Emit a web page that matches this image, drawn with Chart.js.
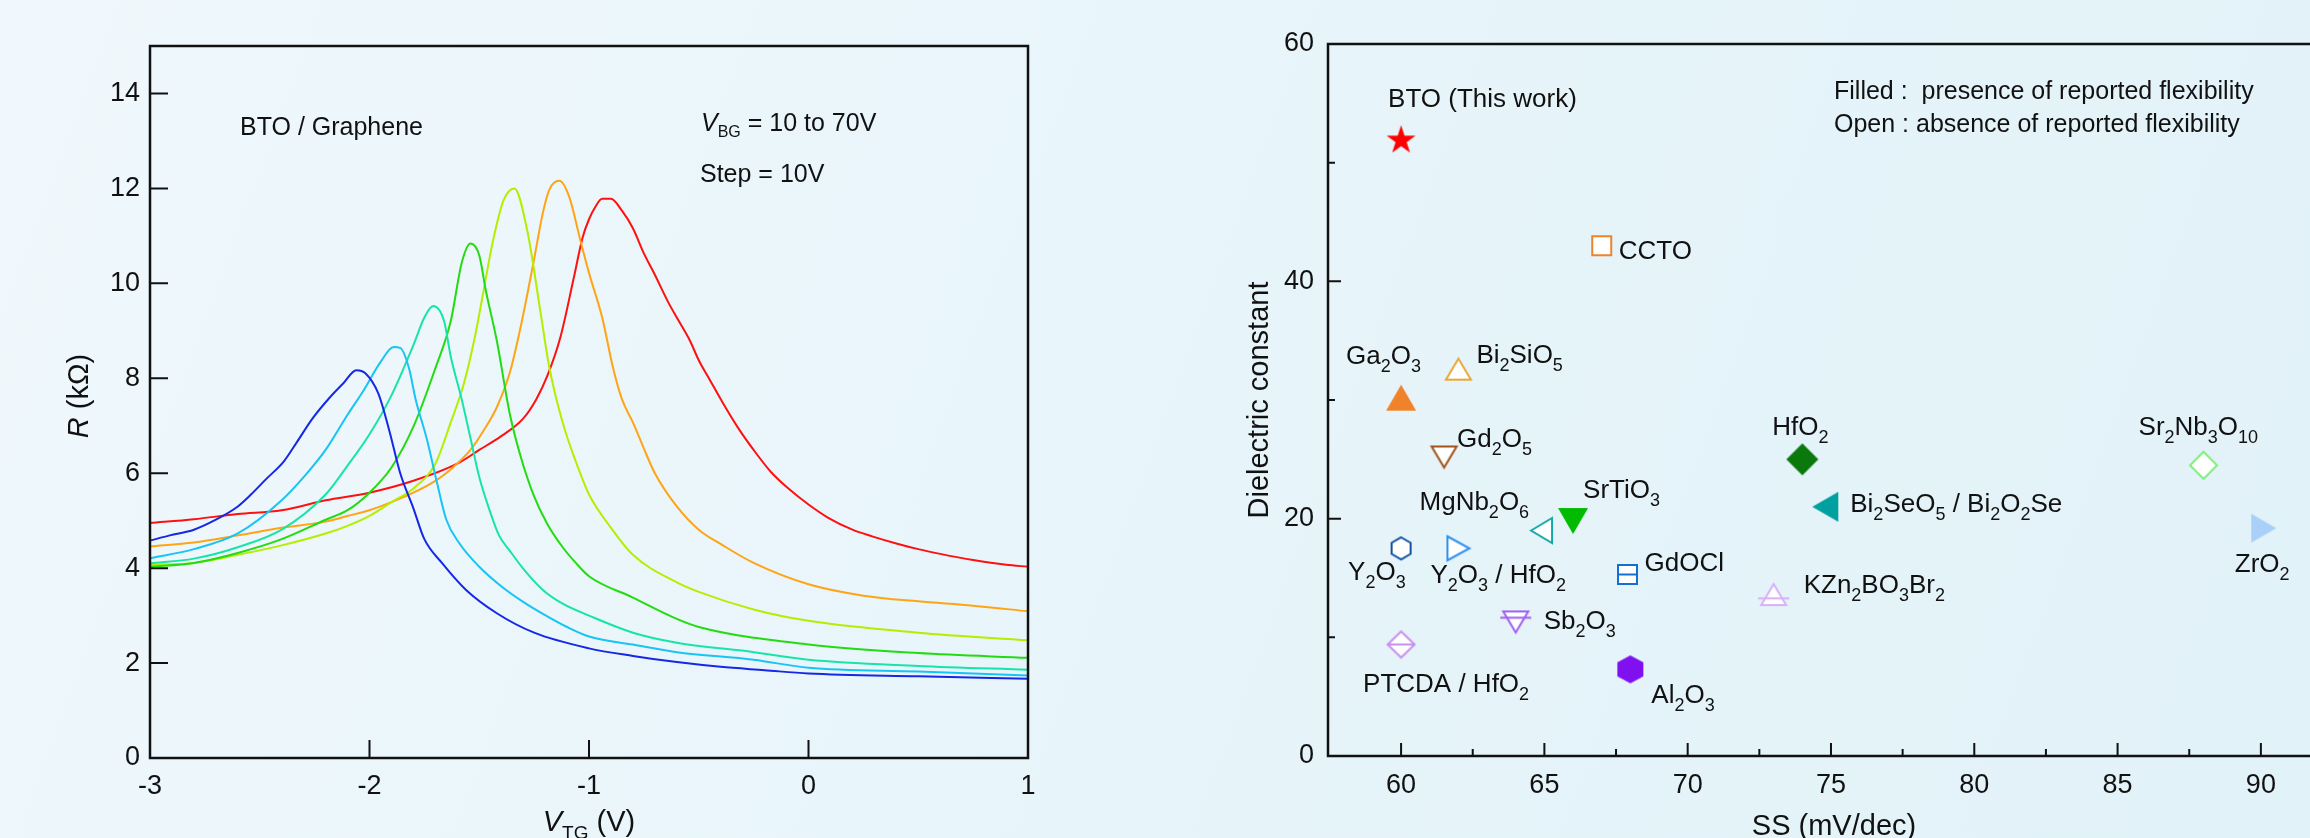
<!DOCTYPE html>
<html>
<head>
<meta charset="utf-8">
<script src="https://cdn.jsdelivr.net/npm/chart.js@4.4.1/dist/chart.umd.min.js"></script>
<style>
html, body {
    margin: 0;
    padding: 0;
    width: 2310px;
    height: 838px;
    overflow: hidden;
    background: linear-gradient(110deg, #f0f8fc 0%, #e8f5fa 45%, #e1f2f8 100%);
}
#leftChart { position: absolute; left: 0; top: 0; }
#rightChart { position: absolute; left: 1150px; top: 0; }
</style>
</head>
<body>
<canvas id="leftChart" width="1100" height="838"></canvas>
<canvas id="rightChart" width="1160" height="838"></canvas>
<script>
const FONT = "'Liberation Sans', Arial, Helvetica, sans-serif";

// ---- left panel: R vs V_TG, one curve per back gate voltage ----
const bgVoltages = ["10V", "20V", "30V", "40V", "50V", "60V", "70V"];

const vtg10 = [-3, -2.91, -2.8, -2.7, -2.6, -2.54, -2.47, -2.39, -2.33, -2.26, -2.18, -2.12, -2.06, -2.02, -1.96, -1.91, -1.86, -1.8, -1.75, -1.67, -1.56, -1.42, -1.25, -1.0, -0.8, -0.6, -0.4, -0.2, 0, 0.5, 1];
const r10 = [4.58, 4.69, 4.81, 5.02, 5.30, 5.55, 5.88, 6.25, 6.66, 7.15, 7.60, 7.89, 8.17, 8.11, 7.68, 6.90, 6.00, 5.26, 4.61, 4.11, 3.54, 3.05, 2.64, 2.31, 2.15, 2.02, 1.92, 1.85, 1.78, 1.72, 1.67];

const vtg20 = [-3, -2.8, -2.6, -2.4, -2.29, -2.2, -2.1, -2.03, -1.95, -1.89, -1.86, -1.82, -1.79, -1.74, -1.69, -1.65, -1.59, -1.5, -1.4, -1.3, -1.2, -1.1, -1.0, -0.8, -0.6, -0.25, 0, 0.5, 1];
const r20 = [4.21, 4.40, 4.73, 5.43, 5.97, 6.49, 7.23, 7.72, 8.34, 8.66, 8.64, 8.21, 7.56, 6.74, 5.75, 5.02, 4.52, 4.03, 3.62, 3.29, 3.01, 2.76, 2.56, 2.39, 2.23, 2.07, 1.90, 1.82, 1.74];

const vtg30 = [-3, -2.8, -2.6, -2.4, -2.2, -2.1, -2.0, -1.9, -1.8, -1.75, -1.71, -1.66, -1.63, -1.58, -1.54, -1.5, -1.45, -1.41, -1.36, -1.3, -1.21, -1.12, -1.0, -0.8, -0.6, -0.25, 0, 0.5, 1];
const r30 = [4.10, 4.20, 4.44, 4.81, 5.55, 6.16, 6.82, 7.64, 8.70, 9.28, 9.52, 9.20, 8.46, 7.56, 6.74, 5.92, 5.18, 4.69, 4.36, 3.99, 3.54, 3.25, 3.00, 2.64, 2.43, 2.23, 2.07, 1.94, 1.86];

const vtg40 = [-3, -2.8, -2.6, -2.4, -2.2, -2.1, -2.0, -1.9, -1.8, -1.7, -1.63, -1.58, -1.54, -1.5, -1.47, -1.42, -1.36, -1.31, -1.25, -1.19, -1.12, -1.06, -1.0, -0.8, -0.6, -0.5, 0, 0.5, 1];
const r40 = [4.03, 4.11, 4.32, 4.61, 5.02, 5.22, 5.59, 6.12, 6.98, 8.21, 9.20, 10.43, 10.84, 10.59, 9.85, 8.79, 7.23, 6.33, 5.51, 4.93, 4.44, 4.11, 3.83, 3.38, 2.93, 2.76, 2.39, 2.21, 2.11];

const vtg50 = [-3, -2.8, -2.6, -2.4, -2.2, -2.1, -2.0, -1.9, -1.8, -1.7, -1.63, -1.57, -1.52, -1.48, -1.44, -1.39, -1.34, -1.28, -1.22, -1.18, -1.12, -1.04, -1.0, -0.9, -0.8, -0.6, -0.5, -0.25, 0, 0.5, 1];
const r50 = [4.07, 4.11, 4.28, 4.48, 4.73, 4.89, 5.10, 5.39, 5.68, 6.20, 7.07, 7.89, 8.87, 9.85, 10.84, 11.74, 12.00, 11.08, 9.36, 8.21, 7.07, 6.00, 5.55, 4.85, 4.28, 3.70, 3.50, 3.13, 2.89, 2.64, 2.48];

const vtg60 = [-3, -2.8, -2.6, -2.4, -2.2, -2.1, -2.0, -1.9, -1.8, -1.7, -1.63, -1.54, -1.48, -1.42, -1.36, -1.31, -1.25, -1.21, -1.18, -1.135, -1.09, -1.04, -1.0, -0.94, -0.89, -0.85, -0.8, -0.74, -0.7, -0.6, -0.5, -0.39, -0.25, 0, 0.25, 0.5, 0.75, 1];
const r60 = [4.46, 4.54, 4.69, 4.85, 4.98, 5.10, 5.22, 5.39, 5.59, 5.84, 6.08, 6.49, 6.90, 7.39, 8.13, 9.11, 10.51, 11.49, 11.98, 12.16, 11.82, 10.92, 10.22, 9.28, 8.21, 7.56, 7.07, 6.41, 6.00, 5.30, 4.81, 4.48, 4.11, 3.66, 3.42, 3.30, 3.21, 3.09];

const vtg70 = [-3, -2.8, -2.6, -2.4, -2.2, -2.0, -1.8, -1.6, -1.5, -1.4, -1.3, -1.24, -1.19, -1.13, -1.07, -1.03, -1.0, -0.97, -0.94, -0.9, -0.85, -0.8, -0.75, -0.7, -0.64, -0.59, -0.54, -0.5, -0.45, -0.39, -0.32, -0.25, -0.17, -0.09, 0, 0.09, 0.2, 0.29, 0.4, 0.5, 0.6, 0.75, 0.9, 1];
const r70 = [4.95, 5.03, 5.14, 5.22, 5.43, 5.59, 5.84, 6.20, 6.49, 6.78, 7.15, 7.56, 8.05, 8.87, 10.10, 10.95, 11.35, 11.62, 11.78, 11.78, 11.53, 11.16, 10.63, 10.18, 9.61, 9.20, 8.79, 8.38, 7.97, 7.48, 6.95, 6.49, 6.02, 5.67, 5.34, 5.06, 4.81, 4.67, 4.52, 4.40, 4.30, 4.17, 4.07, 4.03];

const vtgTicks = [-3, -2, -1, 0, 1];
const rTicks = [0, 2, 4, 6, 8, 10, 12, 14];

// ---- right panel: dielectric constant vs SS ----
const materials = ["BTO (This work)", "CCTO", "Ga_2O_3", "Bi_2SiO_5", "Gd_2O_5", "HfO_2", "Sr_2Nb_3O_10", "SrTiO_3", "MgNb_2O_6", "Bi_2SeO_5 / Bi_2O_2Se", "ZrO_2", "Y_2O_3", "Y_2O_3 / HfO_2", "GdOCl", "KZn_2BO_3Br_2", "Sb_2O_3", "PTCDA / HfO_2", "Al_2O_3"];
const ssValues = [60, 67, 60, 62, 61.5, 74, 88, 66, 64.9, 74.8, 90.1, 60, 62, 67.9, 73, 64, 60, 68];
const kValues = [52, 43, 30.2, 32.6, 25.2, 25, 24.5, 19.8, 19, 21, 19.2, 17.5, 17.5, 15.3, 13.6, 11.3, 9.4, 7.3];
const flexible = [true, false, true, false, false, true, false, true, false, true, true, false, false, false, false, false, false, true];

const ssTicks = [60, 65, 70, 75, 80, 85, 90];
const ssMinorTicks = [62.5, 67.5, 72.5, 77.5, 82.5, 87.5];
const kTicks = [0, 20, 40, 60];
const kMinorTicks = [10, 30, 50];

// styles (kept apart from the data)
const lineColors = ["#1428e6", "#18c4f4", "#18e4a8", "#22dc10", "#b4ee00", "#ffa414", "#ff1010"];
const markerShapes = ["star", "square", "up", "up", "down", "diamond", "diamond", "down", "left", "left", "right", "hex", "right", "squareLine", "upLine", "downLine", "diamondLine", "hex"];
const markerColors = ["#ff0000", "#f0822a", "#f0822a", "#e8a838", "#a0521a", "#0a780a", "#80ee80", "#00bb00", "#14a8a8", "#00a0a0", "#a8d0f8", "#1050a0", "#3090f0", "#1470d0", "#d8b0f8", "#a060f0", "#c890f0", "#8010f0"];
const markerSizes = [[29, 29], [19, 19], [30, 26], [25, 21], [25, 21], [32, 32], [27, 27], [30, 26], [21, 25], [26, 30], [25, 29], [19, 22], [22, 24], [19, 19], [25, 21], [25, 21], [27, 26], [26, 28]];
const labelOffsets = [[-13, -32], [17, 13], [-55, -34], [18, -6], [13, -10], [-30, -24], [-65, -30], [10, -23], [-122, -21], [25, 5], [-29, 44], [-53, 32], [-28, 35], [17, -3], [30, -2], [28, 7], [-38, 48], [21, 34]];

const setFont = function (ctx, size, italic) {
    ctx.font = (italic ? "italic " : "") + size + "px " + FONT;
};

const drawParts = function (ctx, parts, x, y, align) {
    let total = 0;
    parts.forEach(p => {
        setFont(ctx, p.size, p.italic);
        p.w = ctx.measureText(p.text).width;
        total += p.w;
    });
    let cx = align === "center" ? x - total / 2 : x;
    ctx.textAlign = "left";
    ctx.textBaseline = "alphabetic";
    parts.forEach(p => {
        setFont(ctx, p.size, p.italic);
        ctx.fillText(p.text, cx, y + (p.dy || 0));
        cx += p.w;
    });
};

const formulaParts = function (label, size, subSize, subDy) {
    return label.split(/_(\d+)/)
        .map((t, i) => i % 2 ? { text: t, size: subSize, dy: subDy } : { text: t, size: size })
        .filter(p => p.text !== "");
};

const makeMarker = function (shape, color, filled, w, h) {
    const pad = 4;
    const c = document.createElement("canvas");
    c.width = Math.round(w + 2 * pad);
    c.height = Math.round(h + 2 * pad);
    const g = c.getContext("2d");
    g.translate(pad, pad);
    g.strokeStyle = color;
    g.fillStyle = filled ? color : "#ffffff";
    g.lineWidth = 2;
    const base = shape.replace("Line", "");
    const pts = {
        up: [[w / 2, 0], [w, h], [0, h]],
        down: [[0, 0], [w, 0], [w / 2, h]],
        left: [[0, h / 2], [w, 0], [w, h]],
        right: [[0, 0], [w, h / 2], [0, h]],
        diamond: [[w / 2, 0], [w, h / 2], [w / 2, h], [0, h / 2]],
        square: [[0, 0], [w, 0], [w, h], [0, h]],
        hex: [[w / 2, 0], [w, h / 4], [w, 3 * h / 4], [w / 2, h], [0, 3 * h / 4], [0, h / 4]]
    };
    g.beginPath();
    if (base === "star") {
        const R = w / 1.902;
        const cx = w / 2, cy = (h - 1.809 * R) / 2 + R;
        for (let i = 0; i < 10; i++) {
            const ang = -Math.PI / 2 + i * Math.PI / 5;
            const rad = i % 2 ? R * 0.382 : R;
            g.lineTo(cx + rad * Math.cos(ang), cy + rad * Math.sin(ang));
        }
    } else {
        pts[base].forEach(p => g.lineTo(p[0], p[1]));
    }
    g.closePath();
    g.fill();
    if (!filled) g.stroke();
    if (shape.endsWith("Line")) {
        const ly = shape === "upLine" ? h * 0.68 : shape === "downLine" ? h * 0.3 : h / 2;
        const ext = (shape === "upLine" || shape === "downLine") ? 3 : 0;
        g.beginPath();
        g.moveTo(-ext, ly);
        g.lineTo(w + ext, ly);
        g.stroke();
    }
    return c;
};

// ---------- left chart ----------
const leftFrame = {
    id: "leftFrame",
    afterDraw(chart) {
        const { ctx, chartArea: a, scales: { x, y } } = chart;
        ctx.save();
        ctx.strokeStyle = "#111";
        ctx.lineWidth = 2.5;
        ctx.strokeRect(a.left, a.top, a.right - a.left, a.bottom - a.top);
        ctx.lineWidth = 2;
        ctx.beginPath();
        vtgTicks.forEach(v => {
            const px = x.getPixelForValue(v);
            ctx.moveTo(px, a.bottom);
            ctx.lineTo(px, a.bottom - 18);
        });
        rTicks.forEach(v => {
            const py = y.getPixelForValue(v);
            ctx.moveTo(a.left, py);
            ctx.lineTo(a.left + 18, py);
        });
        ctx.stroke();

        ctx.fillStyle = "#111";
        setFont(ctx, 27, false);
        ctx.textAlign = "center";
        ctx.textBaseline = "middle";
        vtgTicks.forEach(v => ctx.fillText(String(v), x.getPixelForValue(v), a.bottom + 29));
        ctx.textAlign = "right";
        rTicks.forEach(v => ctx.fillText(String(v), a.left - 10, y.getPixelForValue(v)));

        // axis titles
        drawParts(ctx, [
            { text: "V", size: 29, italic: true },
            { text: "TG", size: 19, dy: 8 },
            { text: " (V)", size: 29 }
        ], (a.left + a.right) / 2, 831, "center");
        ctx.save();
        ctx.translate(88, 396);
        ctx.rotate(-Math.PI / 2);
        drawParts(ctx, [
            { text: "R", size: 29, italic: true },
            { text: " (k\u03A9)", size: 29 }
        ], 0, 0, "center");
        ctx.restore();

        // annotations
        drawParts(ctx, [{ text: "BTO / Graphene", size: 25 }], 240, 135, "left");
        drawParts(ctx, [
            { text: "V", size: 25, italic: true },
            { text: "BG", size: 16, dy: 6 },
            { text: " = 10 to 70V", size: 25 }
        ], 701, 131, "left");
        drawParts(ctx, [{ text: "Step = 10V", size: 25 }], 700, 182, "left");
        ctx.restore();
    }
};

const curves = [[vtg10, r10], [vtg20, r20], [vtg30, r30], [vtg40, r40], [vtg50, r50], [vtg60, r60], [vtg70, r70]];

new Chart(document.getElementById("leftChart").getContext("2d"), {
    type: "line",
    data: {
        datasets: curves.map((c, i) => ({
            label: bgVoltages[i],
            data: c[0].map((v, j) => ({ x: v, y: c[1][j] })),
            borderColor: lineColors[i],
            borderWidth: 2,
            pointRadius: 0,
            cubicInterpolationMode: "monotone",
            fill: false
        }))
    },
    options: {
        responsive: false,
        animation: false,
        events: [],
        layout: { padding: { left: 0, right: 72, top: 46, bottom: 0 } },
        plugins: { legend: { display: false }, tooltip: { enabled: false } },
        scales: {
            x: {
                type: "linear", min: -3, max: 1,
                grid: { display: false }, border: { display: false }, ticks: { display: false },
                afterFit: s => { s.height = 80; }
            },
            y: {
                type: "linear", min: 0, max: 15,
                grid: { display: false }, border: { display: false }, ticks: { display: false },
                afterFit: s => { s.width = 150; }
            }
        }
    },
    plugins: [leftFrame]
});

// ---------- right chart ----------
const rightFrame = {
    id: "rightFrame",
    afterDraw(chart) {
        const { ctx, chartArea: a, scales: { x, y } } = chart;
        ctx.save();
        ctx.strokeStyle = "#111";
        ctx.lineWidth = 2.5;
        ctx.beginPath();
        ctx.moveTo(chart.width, a.top);
        ctx.lineTo(a.left, a.top);
        ctx.lineTo(a.left, a.bottom);
        ctx.lineTo(chart.width, a.bottom);
        ctx.stroke();

        ctx.lineWidth = 2;
        ctx.beginPath();
        ssTicks.forEach(v => { const px = x.getPixelForValue(v); ctx.moveTo(px, a.bottom); ctx.lineTo(px, a.bottom - 13); });
        ssMinorTicks.forEach(v => { const px = x.getPixelForValue(v); ctx.moveTo(px, a.bottom); ctx.lineTo(px, a.bottom - 7); });
        kTicks.forEach(v => { const py = y.getPixelForValue(v); ctx.moveTo(a.left, py); ctx.lineTo(a.left + 13, py); });
        kMinorTicks.forEach(v => { const py = y.getPixelForValue(v); ctx.moveTo(a.left, py); ctx.lineTo(a.left + 7, py); });
        ctx.stroke();

        ctx.fillStyle = "#111";
        setFont(ctx, 27, false);
        ctx.textAlign = "center";
        ctx.textBaseline = "middle";
        ssTicks.forEach(v => ctx.fillText(String(v), x.getPixelForValue(v), a.bottom + 30));
        ctx.textAlign = "right";
        kTicks.forEach(v => ctx.fillText(String(v), a.left - 14, y.getPixelForValue(v)));

        drawParts(ctx, [{ text: "SS (mV/dec)", size: 29 }], 684, 835, "center");
        ctx.save();
        ctx.translate(118, 400);
        ctx.rotate(-Math.PI / 2);
        drawParts(ctx, [{ text: "Dielectric constant", size: 29 }], 0, 0, "center");
        ctx.restore();

        drawParts(ctx, [{ text: "Filled :  presence of reported flexibility", size: 25 }], 684, 99, "left");
        drawParts(ctx, [{ text: "Open : absence of reported flexibility", size: 25 }], 684, 132, "left");

        // material labels next to their markers
        const meta = chart.getDatasetMeta(0);
        meta.data.forEach((pt, i) => {
            drawParts(ctx, formulaParts(materials[i], 26, 18, 8),
                pt.x + labelOffsets[i][0], pt.y + labelOffsets[i][1], "left");
        });
        ctx.restore();
    }
};

const markerImages = markerShapes.map((s, i) =>
    makeMarker(s, markerColors[i], flexible[i], markerSizes[i][0], markerSizes[i][1]));

new Chart(document.getElementById("rightChart").getContext("2d"), {
    type: "scatter",
    data: {
        datasets: [{
            label: "Dielectrics",
            data: ssValues.map((v, i) => ({ x: v, y: kValues[i] })),
            pointStyle: markerImages,
            pointRadius: 10
        }]
    },
    options: {
        responsive: false,
        animation: false,
        events: [],
        layout: { padding: { left: 0, right: 0, top: 44, bottom: 0 } },
        plugins: { legend: { display: false }, tooltip: { enabled: false } },
        scales: {
            x: {
                type: "linear", min: 57.45, max: 91.33,
                grid: { display: false }, border: { display: false }, ticks: { display: false },
                afterFit: s => { s.height = 82; }
            },
            y: {
                type: "linear", min: 0, max: 60,
                grid: { display: false }, border: { display: false }, ticks: { display: false },
                afterFit: s => { s.width = 178; }
            }
        }
    },
    plugins: [rightFrame]
});
</script>
</body>
</html>
